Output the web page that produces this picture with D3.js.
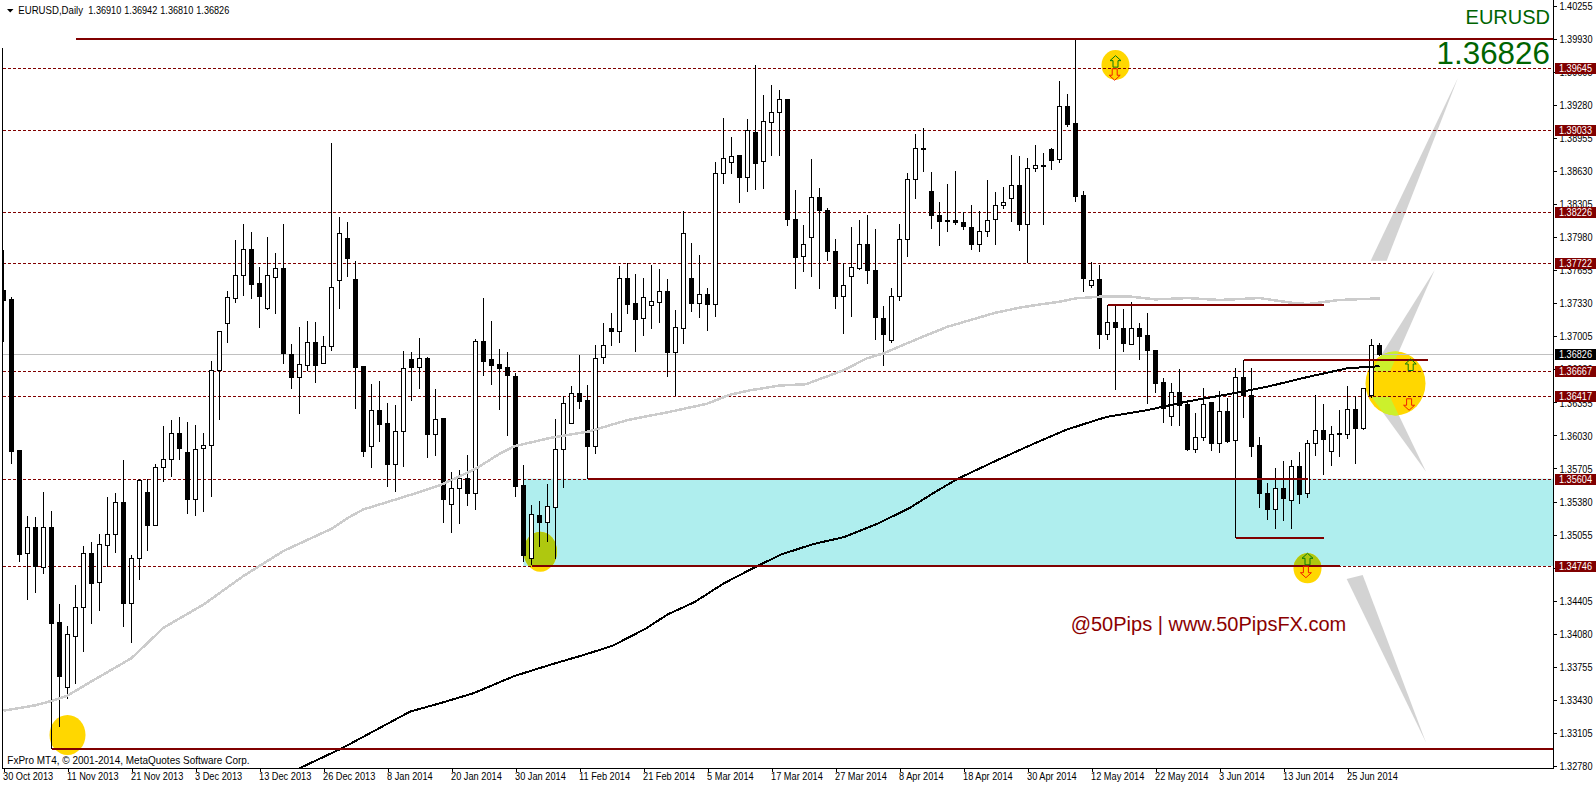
<!DOCTYPE html>
<html><head><meta charset="utf-8">
<script src="https://cdnjs.cloudflare.com/ajax/libs/d3/7.8.5/d3.min.js"></script>
<style>
html,body{margin:0;padding:0;background:#fff;overflow:hidden}
svg{display:block}
text{font-family:"Liberation Sans",Arial,sans-serif;font-size:11px;fill:#000}
</style></head><body><div id="chart"></div>
<script>
const highs=[1.37851,1.37387,1.35891,1.35242,1.35224,1.35470,1.35291,1.34374,1.34156,1.34560,
1.34947,1.34985,1.35056,1.35421,1.35466,1.35789,1.34859,1.35603,1.35603,1.35744,
1.36127,1.36186,1.36214,1.36158,1.36137,1.36049,1.36766,1.37054,1.37454,1.37946,
1.38104,1.38026,1.37689,1.37984,1.37819,1.38104,1.36931,1.37092,1.37159,1.37141,
1.37011,1.38900,1.38181,1.38125,1.37748,1.36717,1.36531,1.36560,1.36344,1.36324,
1.36861,1.36845,1.36989,1.36802,1.36488,1.36203,1.35673,1.35686,1.35833,1.36979,
1.37385,1.37159,1.36884,1.36845,1.36648,1.35735,1.35349,1.35382,1.35548,1.36187,
1.36416,1.36511,1.36825,1.36521,1.36914,1.37136,1.37238,1.37699,1.37726,1.37621,
1.37582,1.37709,1.37670,1.37572,1.37264,1.38233,1.37923,1.37804,1.37479,1.38722,
1.39146,1.38968,1.38781,1.39136,1.39668,1.39372,1.39471,1.39422,1.39333,1.38445,
1.38100,1.38751,1.38465,1.38265,1.37959,1.37722,1.38081,1.38150,1.38199,1.38061,
1.37302,1.37479,1.38110,1.38613,1.38988,1.39047,1.38623,1.38327,1.38505,1.38633,
1.38225,1.38298,1.38238,1.38544,1.38426,1.38475,1.38791,1.38781,1.38761,1.38889,
1.38810,1.38859,1.39510,1.39382,1.39931,1.38432,1.37732,1.37706,1.37311,1.37298,
1.37272,1.37338,1.37131,1.37233,1.36874,1.36591,1.36542,1.36680,1.36368,1.36252,
1.36499,1.36361,1.36469,1.36394,1.36693,1.36769,1.36690,1.36016,1.35565,1.35713,
1.35782,1.35789,1.35871,1.35989,1.36430,1.36335,1.36127,1.36275,1.36512,1.36417,
1.36499,1.36973,1.36942];
const lows=[1.36948,1.35747,1.34789,1.34409,1.34480,1.34666,1.32950,1.33166,1.33437,1.33584,
1.33900,1.34174,1.34308,1.34736,1.34869,1.34146,1.33988,1.34613,1.34890,1.35147,
1.35572,1.35624,1.35786,1.35256,1.35235,1.35273,1.35424,1.36179,1.36938,1.37331,
1.37398,1.37370,1.37085,1.37261,1.37222,1.36731,1.36485,1.36239,1.36660,1.36544,
1.36741,1.36857,1.37271,1.37591,1.36288,1.35817,1.35709,1.35964,1.35522,1.35473,
1.35719,1.36367,1.36485,1.35807,1.35827,1.35169,1.35071,1.35159,1.35336,1.35296,
1.36612,1.36524,1.36279,1.36023,1.35424,1.34786,1.34753,1.34933,1.34982,1.34812,
1.35512,1.36144,1.36288,1.35598,1.35843,1.36727,1.36907,1.36937,1.37228,1.36848,
1.37005,1.37074,1.37136,1.36603,1.36419,1.36927,1.37246,1.37187,1.37058,1.37196,
1.38505,1.38603,1.38317,1.38419,1.38439,1.38455,1.38774,1.38781,1.38084,1.37472,
1.37640,1.37591,1.37472,1.37749,1.37275,1.37029,1.37196,1.37657,1.37522,1.36970,
1.36713,1.36940,1.37354,1.37788,1.38350,1.38616,1.38061,1.37887,1.38025,1.38094,
1.38051,1.37857,1.37837,1.37985,1.37897,1.38252,1.38130,1.38041,1.37722,1.38616,
1.38103,1.38636,1.38705,1.39060,1.38320,1.37443,1.37482,1.36881,1.36969,1.36476,
1.36848,1.36920,1.36772,1.36335,1.36443,1.36150,1.36127,1.36121,1.35874,1.35854,
1.35973,1.35874,1.35854,1.35956,1.35026,1.36200,1.35815,1.35318,1.35203,1.35114,
1.35193,1.35114,1.35351,1.35410,1.35831,1.35637,1.35726,1.35822,1.35993,1.35746,
1.36081,1.36397,1.36810];
const opens=[1.37454,1.37366,1.35881,1.34873,1.35129,1.34736,1.35122,1.34188,1.33556,1.34055,
1.34343,1.34866,1.34588,1.34950,1.35052,1.35375,1.34374,1.34817,1.35473,1.35147,
1.35719,1.35789,1.36046,1.35860,1.35403,1.35898,1.35926,1.36664,1.37127,1.37373,
1.37598,1.37854,1.37521,1.37275,1.37587,1.37668,1.36822,1.36604,1.36720,1.36948,
1.36741,1.36899,1.37556,1.37963,1.37562,1.36707,1.35925,1.36272,1.36144,1.35748,
1.36072,1.36773,1.36701,1.36783,1.36043,1.36197,1.35355,1.35506,1.35604,1.35463,
1.36950,1.36773,1.36724,1.36694,1.36609,1.35539,1.34818,1.35241,1.35169,1.35319,
1.35889,1.36144,1.36439,1.36373,1.35925,1.36793,1.37081,1.37054,1.37572,1.37323,
1.37176,1.37303,1.37333,1.37441,1.36848,1.37078,1.37574,1.37325,1.37417,1.37315,
1.38600,1.38708,1.38777,1.38570,1.39004,1.38718,1.39103,1.39201,1.39330,1.38156,
1.37791,1.37979,1.38373,1.38245,1.37841,1.37397,1.37591,1.37670,1.37910,1.37653,
1.37180,1.36960,1.37397,1.37959,1.38541,1.38846,1.38432,1.38196,1.38146,1.38146,
1.38127,1.38077,1.37906,1.38035,1.38156,1.38294,1.38363,1.38491,1.38107,1.38649,
1.38688,1.38836,1.38738,1.39260,1.39096,1.38386,1.37502,1.37558,1.37019,1.37140,
1.37081,1.36920,1.37081,1.37012,1.36864,1.36548,1.36213,1.36450,1.36335,1.35894,
1.36006,1.36351,1.35953,1.36266,1.35976,1.36598,1.36420,1.35927,1.35463,1.35302,
1.35512,1.35394,1.35720,1.35463,1.35947,1.36075,1.35874,1.36045,1.36042,1.36282,
1.36101,1.36427,1.36910];
const closes=[1.37359,1.35870,1.34859,1.35129,1.34739,1.35122,1.34185,1.33661,1.34069,1.34343,
1.34866,1.34574,1.34954,1.35052,1.35375,1.34381,1.34817,1.35582,1.35147,1.35712,
1.35789,1.36046,1.35905,1.35403,1.35888,1.35926,1.36664,1.37047,1.37384,1.37598,
1.37854,1.37517,1.37398,1.37598,1.37668,1.36836,1.36604,1.36723,1.36948,1.36720,
1.36899,1.37482,1.38012,1.37773,1.36701,1.35876,1.36272,1.36141,1.35748,1.36066,
1.36684,1.36701,1.36783,1.36043,1.36184,1.35404,1.35506,1.35607,1.35463,1.36950,
1.36760,1.36720,1.36688,1.36622,1.35532,1.34845,1.35251,1.35169,1.35329,1.35889,
1.36341,1.36439,1.36367,1.35925,1.36783,1.36917,1.37054,1.37568,1.37316,1.37172,
1.37382,1.37343,1.37441,1.36848,1.37087,1.38010,1.37325,1.37417,1.37315,1.38600,
1.38748,1.38768,1.38567,1.39024,1.38705,1.39113,1.39201,1.39330,1.38153,1.37778,
1.37910,1.38373,1.38242,1.37837,1.37394,1.37505,1.37683,1.37910,1.37650,1.37187,
1.37019,1.37397,1.37959,1.38541,1.38846,1.38837,1.38192,1.38133,1.38136,1.38123,
1.38084,1.37906,1.38038,1.38146,1.38294,1.38324,1.38491,1.38104,1.38649,1.38679,
1.38675,1.38734,1.39260,1.39089,1.38379,1.37571,1.37554,1.37019,1.37140,1.37088,
1.36930,1.37081,1.36999,1.36861,1.36545,1.36298,1.36450,1.36328,1.35891,1.36006,
1.36331,1.35953,1.36262,1.35973,1.36598,1.36427,1.35923,1.35460,1.35302,1.35512,
1.35410,1.35729,1.35450,1.35947,1.36075,1.35993,1.36035,1.36035,1.36282,1.36101,
1.36489,1.36913,1.36826];

const grayMaBars=[0,4,6,8,11,16,20,25,30,35,41,43,45,48,52,54.6,59,62,63.8,68.5,73.3,78,83,87.9,90.8,93.3,97,100.3,105,107.9,110,114.6,118,122,124,127,129,132,134,137,141,144,148,152,157,161,163,167,171,172];
const grayMaValues=[1.33324,1.33377,1.33419,1.33472,1.33612,1.33840,1.34139,1.34367,1.34648,1.34894,1.35112,1.35217,1.35303,1.35375,1.35473,1.35541,1.35700,1.35849,1.35922,1.36008,1.36071,1.36181,1.36257,1.36340,1.36430,1.36473,1.36520,1.36533,1.36670,1.36787,1.36837,1.36990,1.37098,1.37190,1.37236,1.37285,1.37311,1.37344,1.37377,1.37393,1.37393,1.37367,1.37380,1.37361,1.37380,1.37334,1.37321,1.37361,1.37374,1.37374];
const blackMaBars=[37,42.3,50.8,54.6,58.8,63.8,68.5,72.5,76.1,80.2,83,86.4,90,94.3,97.3,101.2,105.1,109.3,113.2,116,119.2,124.4,128.8,132.7,136.6,138,143,148,153,158,163,168,172];
const blackMaValues=[1.32758,1.32954,1.33314,1.33398,1.33497,1.33663,1.33779,1.33871,1.33961,1.34127,1.34269,1.34392,1.34574,1.34749,1.34862,1.34961,1.35031,1.35164,1.35313,1.35452,1.35601,1.35793,1.35949,1.36081,1.36181,1.36213,1.36279,1.36364,1.36433,1.36509,1.36604,1.36690,1.36710];

const yTicks=[1.40255,1.39930,1.39605,1.39280,1.38955,1.38630,1.38305,1.37980,1.37655,1.37330,1.37005,1.36680,1.36355,1.36030,1.35705,1.35380,1.35055,1.34730,1.34405,1.34080,1.33755,1.33430,1.33105,1.32780];
const dateLabels=["30 Oct 2013","11 Nov 2013","21 Nov 2013","3 Dec 2013","13 Dec 2013","26 Dec 2013","8 Jan 2014","20 Jan 2014","30 Jan 2014","11 Feb 2014","21 Feb 2014","5 Mar 2014","17 Mar 2014","27 Mar 2014","8 Apr 2014","18 Apr 2014","30 Apr 2014","12 May 2014","22 May 2014","3 Jun 2014","13 Jun 2014","25 Jun 2014"];
const levelPrices=[1.39645,1.39033,1.38226,1.37722,1.36667,1.36417,1.35604,1.34746];
const currentPrice=1.36826;
const barOhlc=[1.36910,1.36942,1.36810,1.36826];
const zoneTop=1.35604, zoneBottom=1.34746, zoneStartBar=65;
const solidStartBars=[9,6,73,66,138,155,154];
const solidEndBars=[null,null,163,167,165,178,165];
const solidPrices=[1.39930,1.32950,1.35604,1.34746,1.37311,1.36769,1.35026];
const spotBars=[8,67.1,139,163,174];
const spotPrices=[1.33085,1.34887,1.39671,1.34723,1.36540];
const upArrowBars=[139,163,175.9], upArrowPrices=[1.39704,1.34812,1.36722];
const downArrowBars=[138.9,162.8,175.7], downArrowPrices=[1.39580,1.34690,1.36336];
const wedgeBars=[[181.8,170.9,172.9],[178.9,170.9,173.3],[177.8,171,173.3],[177.8,167.9,169.9]];
const wedgePrices=[[1.39544,1.37748,1.37748],[1.37656,1.36656,1.36656],[1.35674,1.36411,1.36411],[1.33013,1.34618,1.34658]];

const W=1596,H=786,L=3,R=1553,B=768;
const x=d3.scaleLinear().domain([0,172]).range([3.5,1379.5]);
const y=d3.scaleLinear().domain([1.40255,1.32780]).range([5.6,766]);
const DK="#800000";
const svg=d3.select("#chart").append("svg").attr("width",W).attr("height",H);
const defs=svg.append("defs");
defs.append("clipPath").attr("id","plot").append("rect").attr("x",L).attr("y",0).attr("width",R-L).attr("height",B);
defs.append("clipPath").attr("id","zone").append("rect").attr("x",x(zoneStartBar)).attr("y",y(zoneTop)).attr("width",R-x(zoneStartBar)).attr("height",y(zoneBottom)-y(zoneTop));
const wedgePts=wedgeBars.map((b,k)=>b.map((v,j)=>[x(v),y(wedgePrices[k][j])].join(",")).join(" "));
defs.append("clipPath").attr("id","wedges").selectAll("polygon").data(wedgePts).join("polygon").attr("points",d=>d);

const plot=svg.append("g").attr("clip-path","url(#plot)");
plot.append("rect").attr("x",x(zoneStartBar)).attr("y",y(zoneTop)).attr("width",R-x(zoneStartBar)).attr("height",y(zoneBottom)-y(zoneTop)).attr("fill","#AFEEEE");
plot.selectAll(".w").data(wedgePts).join("polygon").attr("points",d=>d).attr("fill","#D3D3D3");
const spotRx=[18,16.7,14,14,30], spotRy=[20,20,15,15,32];
function spots(g,col){g.selectAll("ellipse").data(spotBars).join("ellipse")
 .attr("cx",d=>x(d)).attr("cy",(d,i)=>y(spotPrices[i])).attr("rx",(d,i)=>spotRx[i]).attr("ry",(d,i)=>spotRy[i]).attr("fill",col);}
spots(plot.append("g"),"#FFD700");
spots(plot.append("g").attr("clip-path","url(#zone)"),"#AFC80F");
spots(plot.append("g").attr("clip-path","url(#wedges)"),"#CCF02C");

plot.selectAll(".lvl").data(levelPrices).join("line").attr("class","lvl")
 .attr("x1",L).attr("x2",R).attr("y1",d=>Math.round(y(d))+.5).attr("y2",d=>Math.round(y(d))+.5)
 .attr("stroke",DK).attr("stroke-dasharray","3,2").attr("shape-rendering","crispEdges");
plot.append("line").attr("x1",L).attr("x2",R).attr("y1",Math.round(y(currentPrice))+.5).attr("y2",Math.round(y(currentPrice))+.5)
 .attr("stroke","#C0C0C0").attr("shape-rendering","crispEdges");

const candles=plot.append("g").attr("shape-rendering","crispEdges");
candles.selectAll("line").data(highs).join("line")
 .attr("x1",(d,i)=>x(i)).attr("x2",(d,i)=>x(i)).attr("y1",d=>y(d)).attr("y2",(d,i)=>y(lows[i])).attr("stroke","#000");
candles.selectAll("rect").data(opens).join("rect")
 .attr("x",(d,i)=>x(i)-2).attr("width",4)
 .attr("y",(d,i)=>y(Math.max(d,closes[i])))
 .attr("height",(d,i)=>Math.max(1,Math.abs(y(d)-y(closes[i]))))
 .attr("fill",(d,i)=>closes[i]>=d?"#fff":"#000").attr("stroke","#000");

const maLine=(bars,vals)=>d3.line().x(d=>x(d)).y((d,i)=>y(vals[i]))(bars);
plot.append("path").attr("d",maLine(grayMaBars,grayMaValues)).attr("fill","none").attr("stroke","#CCCCCC").attr("stroke-width",2.5).attr("shape-rendering","crispEdges");
plot.append("path").attr("d",maLine(blackMaBars,blackMaValues)).attr("fill","none").attr("stroke","#000").attr("stroke-width",2).attr("shape-rendering","crispEdges");

plot.selectAll(".sol").data(solidPrices).join("line").attr("class","sol")
 .attr("x1",(d,i)=>x(solidStartBars[i])).attr("x2",(d,i)=>solidEndBars[i]===null?R:x(solidEndBars[i]))
 .attr("y1",d=>Math.round(y(d))).attr("y2",d=>Math.round(y(d)))
 .attr("stroke",DK).attr("stroke-width",2).attr("shape-rendering","crispEdges");

const upPath="M0,-6L5.5,-1L2.5,-1L2.5,5.5L-2.5,5.5L-2.5,-1L-5.5,-1Z";
const dnPath="M0,6L5.5,1L2.5,1L2.5,-5.5L-2.5,-5.5L-2.5,1L-5.5,1Z";
plot.selectAll(".ua").data(upArrowBars).join("path").attr("class","ua").attr("d",upPath)
 .attr("transform",(d,i)=>`translate(${x(d)},${y(upArrowPrices[i])})`).attr("fill","none").attr("stroke","#0A7A0A");
plot.selectAll(".da").data(downArrowBars).join("path").attr("class","da").attr("d",dnPath)
 .attr("transform",(d,i)=>`translate(${x(d)},${y(downArrowPrices[i])})`).attr("fill","none").attr("stroke","#F02000");

// frame
const frame=svg.append("g").attr("stroke","#000").attr("shape-rendering","crispEdges");
frame.append("line").attr("x1",2.5).attr("x2",2.5).attr("y1",48).attr("y2",B+.5);
frame.append("line").attr("x1",2).attr("x2",R+1).attr("y1",B+.5).attr("y2",B+.5);
frame.append("line").attr("x1",R+.5).attr("x2",R+.5).attr("y1",0).attr("y2",B+1);

// squeeze the 11px face horizontally to the narrow widths of the reference's UI font
function squeeze(sel,k){sel.each(function(){const a=+this.getAttribute("x")||0;this.setAttribute("x",0);this.setAttribute("transform",`translate(${a},0) scale(${k},1)`);});}

// axes
const yAxis=d3.axisRight(y).tickValues(yTicks).tickFormat(d3.format(".5f")).tickSize(3).tickPadding(3);
const gy=svg.append("g").attr("transform",`translate(${R+.5},0)`).call(yAxis);
gy.select(".domain").remove();
gy.selectAll("line").attr("shape-rendering","crispEdges");
gy.selectAll("text").attr("fill","#000").attr("dy",null).attr("y",3.7);
squeeze(gy.selectAll("text"),.83);
const xAxis=d3.axisBottom(x).tickValues(dateLabels.map((d,i)=>i*8)).tickFormat((d,i)=>dateLabels[i]).tickSize(3).tickPadding(2);
const gx=svg.append("g").attr("transform",`translate(0,${B+.5})`).call(xAxis);
gx.select(".domain").remove();
gx.selectAll("line").attr("shape-rendering","crispEdges");
gx.selectAll("text").attr("text-anchor","start").attr("x",-1).attr("dy",null).attr("y",12);
squeeze(gx.selectAll("text"),.84);

// price tags
const tags=svg.append("g");
const tagData=levelPrices.map(p=>({p,c:DK})).concat([{p:currentPrice,c:"#000"}]);
tags.selectAll("rect").data(tagData).join("rect").attr("x",R+2).attr("width",W-R-2).attr("y",d=>Math.round(y(d.p))-5).attr("height",11).attr("fill",d=>d.c);
tags.selectAll("text").data(tagData).join("text").attr("x",R+6).attr("y",d=>Math.round(y(d.p))+4).style("fill","#fff").text(d=>d.p.toFixed(5));
squeeze(tags.selectAll("text"),.83);

// header
svg.append("path").attr("d",d3.line()([[7,9],[13.5,9],[10.2,12.5]])+"Z").attr("fill","#000");
squeeze(svg.append("text").attr("x",18.3).attr("y",14).text("EURUSD,Daily"),.875);
squeeze(svg.selectAll(".ohlc").data(barOhlc).join("text").attr("class","ohlc").attr("x",(d,i)=>88.3+36*i).attr("y",14).text(d=>d.toFixed(5)),.83);
squeeze(svg.append("text").attr("x",7.3).attr("y",764).text("FxPro MT4, © 2001-2014, MetaQuotes Software Corp."),.91);
svg.append("text").attr("x",1550).attr("y",23.5).attr("text-anchor","end").style("font-size","20px").style("fill","#006400").text("EURUSD");
svg.append("text").attr("x",1550).attr("y",63.5).attr("text-anchor","end").style("font-size","31.4px").style("fill","#006400").text(currentPrice.toFixed(5));
svg.append("text").attr("x",1070.7).attr("y",631.3).style("font-size","20px").style("fill","#8B0000").text("@50Pips | www.50PipsFX.com");
</script></body></html>
